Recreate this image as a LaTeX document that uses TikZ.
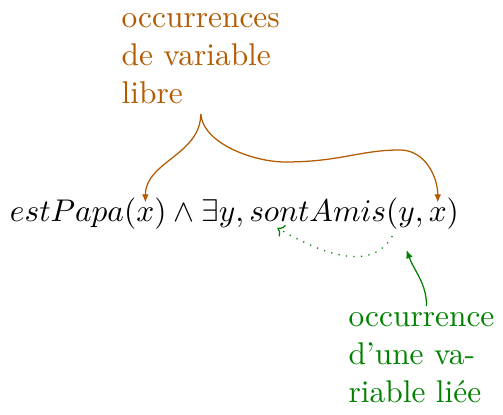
\documentclass[tikz,border=0pt]{standalone}
\usetikzlibrary{positioning,arrows.meta,calc}
\definecolor{libreC}{RGB}{180,90,0}
\definecolor{lieeC}{RGB}{0,130,0}

\begin{document}
\begin{tikzpicture}[x=0.3185pt,y=-0.3185pt,
  fml/.style={inner sep=0,outer sep=0,anchor=base west},
  lbl/.style={inner sep=0,align=left,anchor=north west},
  arr/.style={-{Latex[length=2.6pt,width=2.2pt]}}
]
\useasboundingbox (0,0) rectangle (503,415);
% formula, cut in pieces so arrows can point at them
\node[fml] (pa) at (10,222) {$estPapa($};
\node[fml] (xa) at (pa.base east) {$x$};
\node[fml] (ex) at (xa.base east) {$)\wedge\exists y, so$};
\node[fml] (n) at (ex.base east) {$n$};
\node[fml] (am) at (n.base east) {$tAmis($};
\node[fml] (yb) at (am.base east) {$y$};
\node[fml] (cm) at (yb.base east) {$,{}$};
\node[fml] (xb) at (cm.base east) {$x$};
\node[fml] (cl) at (xb.base east) {$)$};

\node[lbl,text=libreC] (libre) at (121,13) {occurrences\\de variable\\libre};
\node[lbl,text=lieeC] (liee) at (348,312) {occurrence\\d'une va-\\riable liée};

\coordinate (fork) at ($(libre.south)+(0,10)$);
\draw[arr,libreC] (fork) to[out=-90,in=90] ($(xa.north)+(0,-6)$);
\draw[arr,libreC] (fork) to[out=-85,in=180,looseness=0.8] (285,162)
  .. controls (340,162) and (360,150) .. (400,150)
  to[out=0,in=90] ($(xb.north)+(0,-6)$);

\draw[arr,lieeC] ($(liee.north)+(5,-6)$) to[out=90,in=-70] ($(yb.south)+(0,22)$);
\draw[-{To[length=2pt]},lieeC,dotted] ($(yb.south west)+(-6,8)$) to[out=-120,in=-30] ($(n.south west)+(-2,6)$);
\end{tikzpicture}
\end{document}
